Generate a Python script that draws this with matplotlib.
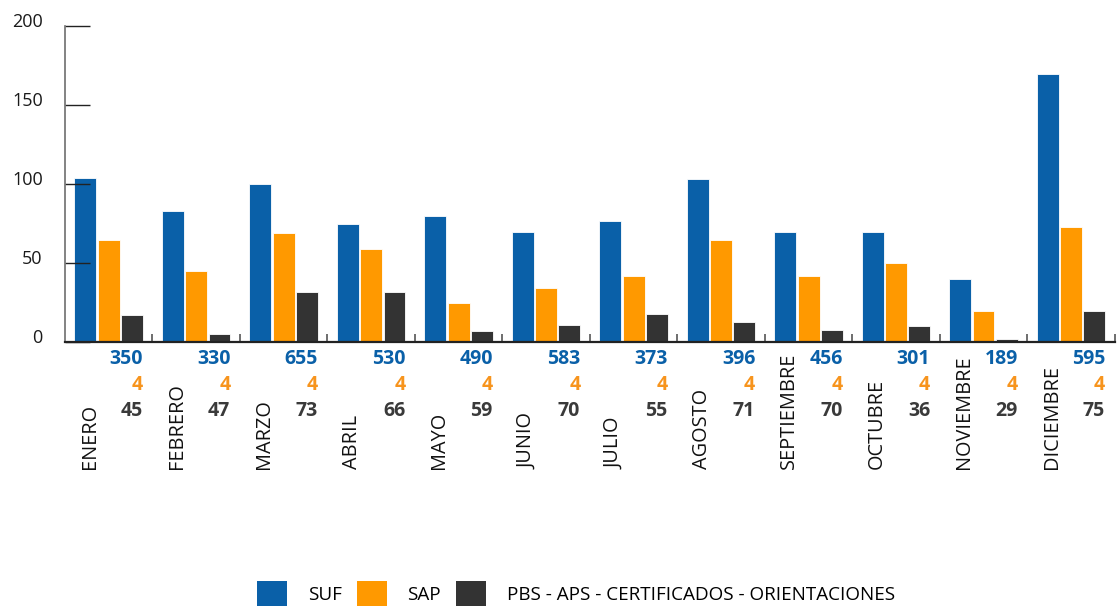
import matplotlib
matplotlib.use("Agg")
import matplotlib.pyplot as plt
from matplotlib.patches import Patch
from matplotlib.transforms import ScaledTranslation
import numpy as np

# meses y series
meses = ["ENERO", "FEBRERO", "MARZO", "ABRIL", "MAYO", "JUNIO", "JULIO",
         "AGOSTO", "SEPTIEMBRE", "OCTUBRE", "NOVIEMBRE", "DICIEMBRE"]
suf = [104, 83, 100, 75, 80, 70, 77, 103, 70, 70, 40, 170]
sap = [65, 45, 69, 59, 25, 34, 42, 65, 42, 50, 20, 73]
pbs = [17, 5, 32, 32, 7, 11, 18, 13, 8, 10, 2, 20]

# totales escritos debajo de cada mes
tot_suf = [350, 330, 655, 530, 490, 583, 373, 396, 456, 301, 189, 595]
tot_sap = [4, 4, 4, 4, 4, 4, 4, 4, 4, 4, 4, 4]
tot_pbs = [45, 47, 73, 66, 59, 70, 55, 71, 70, 36, 29, 75]

series_nombres = ["SUF", "SAP", "PBS - APS - CERTIFICADOS - ORIENTACIONES"]
yticks = [0, 50, 100, 150, 200]

azul = "#0A60A8"
naranja = "#FF9900"
gris = "#333333"

plt.rcParams["font.family"] = ["Open Sans", "DejaVu Sans"]

fig = plt.figure(figsize=(11.17, 6.10), dpi=100)
ax = fig.add_axes([0.0582, 0.439, 0.9398, 0.518])

x = np.arange(len(meses))
ancho = 0.25
ax.bar(x - 0.268, suf, ancho, color=azul, edgecolor="white", linewidth=0.6)
ax.bar(x + 0.0, sap, ancho, color=naranja, edgecolor="white", linewidth=0.6)
ax.bar(x + 0.266, pbs, ancho, color=gris, edgecolor="white", linewidth=0.6)

ax.set_xlim(-0.5, len(meses) - 0.5)
ax.set_ylim(0, 200)

# ejes
for s in ["top", "right"]:
    ax.spines[s].set_visible(False)
ax.spines["left"].set_color("#6e6e6e")
ax.spines["left"].set_linewidth(1.2)
ax.spines["bottom"].set_color("#222222")
ax.spines["bottom"].set_linewidth(1.6)

ax.set_yticks(yticks)
ax.set_yticklabels([str(v) for v in yticks], fontsize=13, color="#1a1a1a")
ax.tick_params(axis="y", direction="in", length=18, width=1, color="#222222", pad=16)
for lab in ax.get_yticklabels():
    lab.set_transform(lab.get_transform() + ScaledTranslation(0, 6 / 100, fig.dpi_scale_trans))

ax.set_xticks(x + 0.5)
ax.set_xticklabels([])
ax.tick_params(axis="x", direction="in", length=6, width=1.2, color="#555555")

# totales y nombres de los meses
for i in range(len(meses)):
    for fila, (txt, col) in enumerate([(tot_suf[i], azul), (tot_sap[i], "#F7941D"),
                                       (tot_pbs[i], "#3a3a3a")]):
        ax.annotate(str(txt), xy=(i + 0.39, 0), xytext=(0, -12 - fila * 18.8),
                    textcoords="offset points", ha="right", va="center",
                    fontsize=14, fontweight="bold", color=col,
                    annotation_clip=False)
    ax.annotate(meses[i], xy=(i - 0.22, 0), xytext=(0, -91.5), textcoords="offset points",
                ha="center", va="bottom", rotation=90, fontsize=14.3, color="#111111",
                annotation_clip=False)

# leyenda
handles = [Patch(facecolor=c) for c in [azul, naranja, gris]]
fig.legend(handles, series_nombres, loc="center", bbox_to_anchor=(0.5157, 0.027),
           ncol=3, frameon=False, fontsize=13.6, handlelength=1.59, handleheight=1.59,
           handletextpad=1.1, columnspacing=0.8, borderpad=0)

fig.savefig("out.png", dpi=100)
